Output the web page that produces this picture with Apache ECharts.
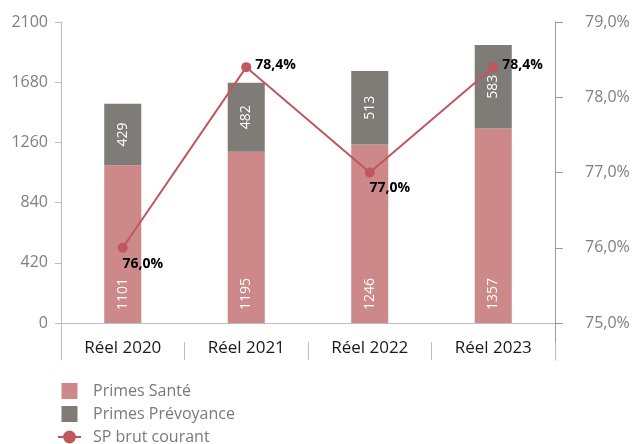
<!DOCTYPE html>
<html>
<head>
<meta charset="utf-8">
<script src="https://cdn.jsdelivr.net/npm/echarts@6/dist/echarts.min.js"></script>
<style>
  html, body { margin: 0; padding: 0; background: #fff; }
  #chart { width: 633px; height: 444px; }
</style>
</head>
<body>
<div id="chart"></div>
<script>
// données du graphique
const categories = ['Réel 2020', 'Réel 2021', 'Réel 2022', 'Réel 2023']
const primesSante = [1101, 1195, 1246, 1357]
const primesPrevoyance = [429, 482, 513, 583]
const spBrut = [76.0, 78.4, 77.0, 78.4]
const leftTicks = { min: 0, max: 2100, interval: 420 }
const rightTicks = { min: 75, max: 79, interval: 1 }

const font = '"Open Sans", sans-serif'
const axisGrey = '#bdbdbd'

let chart = echarts.init(document.getElementById('chart'))

const squareIcon = 'path://M0,0h10v10h-10z'

let option = {
    animation: false,
    textStyle: { fontFamily: font },
    grid: [
        { left: 61, right: 78, top: 22, bottom: 121 },
        // petite grille sous l'axe pour les séparateurs
        { left: 61, right: 78, top: 323, bottom: 84 }
    ],
    legend: {
        orient: 'vertical',
        left: 57,
        top: 383,
        height: 80,
        padding: 0,
        itemWidth: 23,
        itemHeight: 16,
        itemGap: 7,
        textStyle: { fontFamily: font, fontSize: 16, color: '#7a7a7a', padding: [0, 0, 0, 7] },
        data: [
            { name: 'Primes Santé', icon: squareIcon },
            { name: 'Primes Prévoyance', icon: squareIcon },
            { name: 'SP brut courant' }
        ]
    },
    xAxis: [
        {
            type: 'category',
            data: categories,
            gridIndex: 0,
            axisLine: { lineStyle: { color: axisGrey } },
            axisTick: { show: false },
            axisLabel: { margin: 17, fontSize: 17, color: '#1a1a1a', fontFamily: font }
        },
        {
            type: 'category',
            data: categories,
            gridIndex: 1,
            axisLine: { show: false },
            axisLabel: { show: false },
            axisTick: { show: true, inside: true, length: 18, interval: 0, lineStyle: { color: axisGrey } }
        }
    ],
    yAxis: [
        {
            type: 'value',
            gridIndex: 0,
            min: leftTicks.min,
            max: leftTicks.max,
            interval: leftTicks.interval,
            splitLine: { show: false },
            axisLine: { show: true, lineStyle: { color: axisGrey } },
            axisTick: { show: true, length: 6, lineStyle: { color: axisGrey } },
            axisLabel: {
                margin: 13,
                fontSize: 16,
                color: '#7f7f7f',
                fontFamily: font,
                formatter: v => String(v)
            }
        },
        {
            type: 'value',
            gridIndex: 0,
            position: 'right',
            min: rightTicks.min,
            max: rightTicks.max,
            interval: rightTicks.interval,
            splitLine: { show: false },
            axisLine: { show: true, lineStyle: { color: '#9a9a9a' } },
            axisTick: { show: true, length: 8, lineStyle: { color: '#9a9a9a' } },
            axisLabel: {
                margin: 30,
                fontSize: 16,
                color: '#7f7f7f',
                fontFamily: font,
                formatter: v => v.toFixed(1).replace('.', ',') + '%'
            }
        },
        {
            type: 'value', gridIndex: 1, min: 0, max: 1,
            splitLine: { show: false }, axisLabel: { show: false }, axisTick: { show: false },
            axisLine: { show: true, lineStyle: { color: axisGrey } }
        },
        {
            type: 'value', gridIndex: 1, min: 0, max: 1, position: 'right',
            splitLine: { show: false }, axisLabel: { show: false }, axisTick: { show: false },
            axisLine: { show: true, lineStyle: { color: '#9a9a9a' } }
        }
    ],
    series: [
        {
            name: 'Primes Santé',
            type: 'bar',
            stack: 'primes',
            barWidth: '30%',
            itemStyle: { color: '#cd8889' },
            label: {
                show: true,
                position: 'insideBottom',
                distance: 13,
                rotate: 90,
                align: 'left',
                verticalAlign: 'middle',
                color: '#fff',
                fontSize: 14,
                fontWeight: 500,
                fontFamily: font
            },
            data: primesSante
        },
        {
            name: 'Primes Prévoyance',
            type: 'bar',
            stack: 'primes',
            barWidth: '30%',
            itemStyle: { color: '#7f7c78' },
            label: {
                show: true,
                position: 'inside',
                rotate: 90,
                color: '#fff',
                fontSize: 14,
                fontWeight: 500,
                fontFamily: font
            },
            data: primesPrevoyance
        },
        {
            name: 'SP brut courant',
            type: 'line',
            yAxisIndex: 1,
            symbol: 'circle',
            symbolSize: 10,
            lineStyle: { color: '#bf575c', width: 2 },
            itemStyle: { color: '#bf575c' },
            label: {
                show: true,
                color: '#000',
                fontWeight: 'bold',
                fontSize: 14,
                fontFamily: font,
                formatter: p => p.value.toFixed(1).replace('.', ',') + '%'
            },
            data: spBrut.map((v, i) => ({
                value: v,
                label: i % 2 === 0
                    ? { position: 'bottom', offset: [20, 0], distance: 4 }
                    : { position: 'right', offset: [0, -2], distance: 4 }
            }))
        }
    ]
}

option && chart.setOption(option)
</script>
</body>
</html>
